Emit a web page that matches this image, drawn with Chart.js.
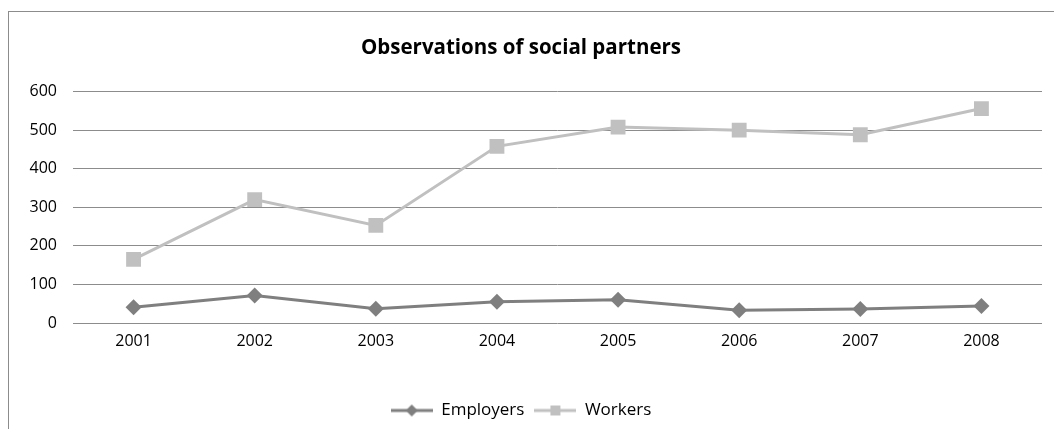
<!DOCTYPE html>
<html>
<head>
<meta charset="utf-8">
<script src="https://cdn.jsdelivr.net/npm/chart.js@4"></script>
<style>
  html, body { margin: 0; padding: 0; background: #fff; }
  body { width: 1054px; height: 429px; position: relative; overflow: hidden; }
  #frame { position: absolute; left: 8px; top: 11px; width: 1100px; height: 500px;
           border-left: 1px solid #8c8c8c; border-top: 1px solid #8c8c8c; }
  #wrap { position: absolute; left: 0; top: 0; width: 1054px; height: 429px; }
</style>
</head>
<body>
<div id="frame"></div>
<div id="wrap"><canvas id="c" width="1054" height="429"></canvas></div>
<script>
const years = ['2001', '2002', '2003', '2004', '2005', '2006', '2007', '2008'];
const employers = [41, 71, 37, 55, 60, 33, 36, 44];
const workers = [165, 320, 253, 458, 508, 500, 488, 556];
const titleText = 'Observations of social partners';

const EMP_COLOR = '#7f7f7f';
const WRK_COLOR = '#c0c0c0';
const FONT = "'Open Sans', Lato, sans-serif";

function legendIcon(color, style) {
  const c = document.createElement('canvas');
  c.width = 42; c.height = 14;
  const g = c.getContext('2d');
  g.strokeStyle = color; g.lineWidth = 3;
  g.beginPath(); g.moveTo(0, 7); g.lineTo(42, 7); g.stroke();
  g.fillStyle = color;
  g.beginPath();
  if (style === 'diamond') {
    g.moveTo(21, 1); g.lineTo(27, 7); g.lineTo(21, 13); g.lineTo(15, 7); g.closePath();
  } else {
    g.rect(16, 2, 10, 10);
  }
  g.fill();
  return c;
}
const icons = [legendIcon(EMP_COLOR, 'diamond'), legendIcon(WRK_COLOR, 'square')];

new Chart(document.getElementById('c'), {
  type: 'line',
  data: {
    labels: years,
    datasets: [
      { label: 'Employers', data: employers, borderColor: EMP_COLOR, backgroundColor: EMP_COLOR,
        borderWidth: 3, pointStyle: 'rectRot', pointRadius: 8, pointBorderWidth: 0, tension: 0 },
      { label: 'Workers', data: workers, borderColor: WRK_COLOR, backgroundColor: WRK_COLOR,
        borderWidth: 3, pointStyle: 'rect', pointRadius: 10.5, pointBorderWidth: 0, tension: 0 }
    ]
  },
  options: {
    responsive: false,
    animation: false,
    devicePixelRatio: 1,
    layout: { padding: { top: 28, right: 12, bottom: 0, left: 0 } },
    plugins: {
      title: { display: true, text: titleText, color: '#000',
               font: { family: FONT, size: 20.5, weight: 'bold' }, padding: { top: 8, bottom: 31 } },
      legend: {
        position: 'bottom',
        labels: {
          usePointStyle: true, pointStyleWidth: 42, padding: 10, color: '#000',
          font: { family: FONT, size: 17 },
          generateLabels(chart) {
            return chart.data.datasets.map((ds, i) => ({
              text: ds.label, pointStyle: icons[i], datasetIndex: i,
              fillStyle: ds.borderColor, strokeStyle: ds.borderColor, lineWidth: 0, fontColor: '#000'
            }));
          }
        }
      },
      tooltip: { enabled: false }
    },
    scales: {
      x: {
        offset: true,
        grid: { display: false, drawTicks: false },
        border: { display: false },
        ticks: { color: '#000', font: { family: FONT, size: 16 }, padding: 9 },
        afterFit(s) { s.height = 69; }
      },
      y: {
        min: 0, max: 600,
        grid: { color: '#8c8c8c', lineWidth: 1, drawTicks: false },
        border: { display: false },
        ticks: { stepSize: 100, color: '#000', font: { family: FONT, size: 16 }, padding: 16 },
        afterFit(s) { s.width = 73; }
      }
    }
  }
});
</script>
</body>
</html>
